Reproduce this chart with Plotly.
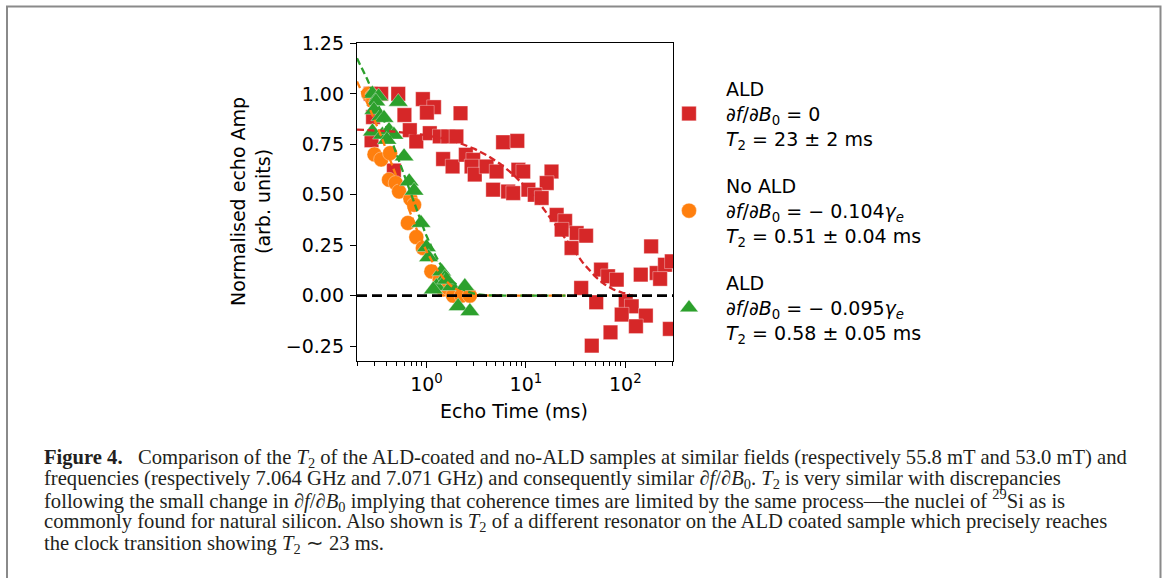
import numpy as np
import plotly.graph_objects as go

# ---------------- data ----------------
red_x = [0.275, 0.35, 0.52, 0.29, 0.92, 1.19, 1.01, 0.60, 2.20, 0.68, 0.79, 1.08, 1.36, 1.65, 2.0,
         0.28, 5.9, 8.2, 1.47, 1.83, 2.49, 2.95, 2.84, 3.06, 4.02, 5.07, 8.4, 9.4, 18.1, 16.2,
         4.68, 6.63, 7.45, 10.6, 12.3, 14.4, 0.47, 20.4, 24.8, 22.9, 32.4, 40.3, 28.8, 182,
         57, 67, 82, 143, 207, 251, 224, 294, 36, 51, 101, 116, 92, 161, 128, 71, 281, 46]
red_y = [1.00, 1.00, 1.00, 0.885, 0.974, 0.934, 0.907, 0.895, 0.904, 0.82, 0.764, 0.805, 0.789, 0.789, 0.789,
         0.77, 0.76, 0.767, 0.677, 0.64, 0.698, 0.673, 0.64, 0.60, 0.64, 0.615, 0.624, 0.615, 0.615, 0.558,
         0.525, 0.516, 0.508, 0.525, 0.50, 0.484, 0.62, 0.40, 0.37, 0.327, 0.31, 0.297, 0.236, 0.244,
         0.129, 0.096, 0.079, 0.104, 0.112, 0.153, 0.083, 0.17, 0.038, -0.033, -0.028, -0.053, -0.094,
         -0.099, -0.152, -0.182, -0.165, -0.248]

orange_x = [0.26, 0.285, 0.30, 0.35, 0.43, 0.42, 0.49, 0.53, 0.69, 0.75, 0.65, 0.79, 0.92,
            1.12, 1.36, 1.47, 1.65, 1.85, 2.25, 2.73]
orange_y = [1.0, 0.99, 0.70, 0.675, 0.706, 0.574, 0.558, 0.516, 0.48, 0.45, 0.36, 0.29, 0.236,
            0.12, 0.079, 0.03, 0.038, 0.0, 0.0, 0.0]

green_x = [0.286, 0.33, 0.31, 0.52, 0.296, 0.346, 0.374, 0.286, 0.36, 0.42, 0.47, 0.40, 0.595,
           0.67, 0.75, 0.88, 1.0, 1.05, 1.42, 1.53, 1.26, 1.78, 2.43, 2.08, 2.73, 1.17, 1.59]
green_y = [1.0, 0.987, 0.962, 0.96, 0.92, 0.888, 0.88, 0.813, 0.797, 0.82, 0.797, 0.772, 0.69,
           0.566, 0.52, 0.36, 0.24, 0.19, 0.12, 0.088, 0.046, 0.046, 0.046, -0.053, -0.078, 0.03, 0.079]

# exponential fits: amplitude, T2 (ms), end of fitted range (ms)
fit_red = dict(amp=0.83, t2=23.0, t_end=110.0)
fit_orange = dict(amp=1.57, t2=0.51, t_end=25.0)
fit_green = dict(amp=1.66, t2=0.58, t_end=25.0)
fit_t_start = 0.2

x_tickvals = [1, 10, 100]
x_ticktext = ["10<sup>0</sup>", "10<sup>1</sup>", "10<sup>2</sup>"]
x_minor = [0.2, 0.3, 0.4, 0.5, 0.6, 0.7, 0.8, 0.9, 2, 3, 4, 5, 6, 7, 8, 9,
           20, 30, 40, 50, 60, 70, 80, 90, 200, 300]
y_tickvals = [-0.25, 0.0, 0.25, 0.5, 0.75, 1.0, 1.25]

names = [
    "ALD<br><i>∂f</i>/<i>∂B</i><sub>0</sub> = 0<br><i>T</i><sub>2</sub> = 23 ± 2 ms",
    "No ALD<br><i>∂f</i>/<i>∂B</i><sub>0</sub> = − 0.104<i>γ</i><sub><i>e</i></sub><br><i>T</i><sub>2</sub> = 0.51 ± 0.04 ms",
    "ALD<br><i>∂f</i>/<i>∂B</i><sub>0</sub> = − 0.095<i>γ</i><sub><i>e</i></sub><br><i>T</i><sub>2</sub> = 0.58 ± 0.05 ms",
]

caption_lines = [
    "<b>Figure 4.</b>\u2002 Comparison of the <i>T</i><sub>2</sub> of the ALD-coated and no-ALD samples at similar fields (respectively 55.8 mT and 53.0 mT) and",
    "frequencies (respectively 7.064 GHz and 7.071 GHz) and consequently similar <i>∂f</i>/<i>∂B</i><sub>0</sub>. <i>T</i><sub>2</sub> is very similar with discrepancies",
    "following the small change in <i>∂f</i>/<i>∂B</i><sub>0</sub> implying that coherence times are limited by the same process—the nuclei of <sup>29</sup>Si as is",
    "commonly found for natural silicon. Also shown is <i>T</i><sub>2</sub> of a different resonator on the ALD coated sample which precisely reaches",
    "the clock transition showing <i>T</i><sub>2</sub> ∼ 23 ms.",
]

RED, ORANGE, GREEN = "#d62728", "#ff7f0e", "#2ca02c"

# ---------------- layout geometry (pixels) ----------------
W, H = 1165, 578
L, R, T, B = 357, 673, 43, 361
pw, ph = R - L, B - T


def px(x):
    return (x - L) / pw


def py(y):
    return (B - y) / ph


FONT = "DejaVu Sans"
FS = 19

fig = go.Figure()

for xs, ys, col, sym, size, name in [
    (red_x, red_y, RED, "square", 14.5, names[0]),
    (orange_x, orange_y, ORANGE, "circle", 15, names[1]),
    (green_x, green_y, GREEN, "triangle-up", 17, names[2]),
]:
    fig.add_trace(go.Scatter(
        x=xs, y=ys, mode="markers", name=name, legendgroup=name,
        marker=dict(symbol=sym, size=size, color=col,
                    line=dict(width=0.6, color="rgba(255,255,255,0.6)")),
    ))

for fit, col in [(fit_red, RED), (fit_orange, ORANGE), (fit_green, GREEN)]:
    t = np.logspace(np.log10(fit_t_start), np.log10(fit["t_end"]), 300)
    fig.add_trace(go.Scatter(
        x=t, y=fit["amp"] * np.exp(-t / fit["t2"]), mode="lines", showlegend=False,
        line=dict(color=col, width=2.3, dash="7px,3.5px"),
    ))

# zero line
fig.add_shape(type="line", xref="paper", yref="y", x0=0, x1=1, y0=0, y1=0,
              line=dict(color="black", width=2.6, dash="10px,5px"), layer="above")

# outer frame
fig.add_shape(type="path", xref="paper", yref="paper",
              path=f"M {px(7)} {py(620)} L {px(7)} {py(6.5)} L {px(1160.5)} {py(6.5)} L {px(1160.5)} {py(620)}",
              line=dict(color="#8a8a8a", width=2), layer="above")

axis_common = dict(showline=True, linecolor="black", linewidth=1.3, mirror=True,
                   ticks="outside", tickcolor="black", tickwidth=1.3, ticklen=6,
                   showgrid=False, zeroline=False, automargin=False,
                   tickfont=dict(family=FONT, size=FS, color="black"))

fig.update_xaxes(type="log", range=[np.log10(0.2), np.log10(302)],
                 tickvals=x_tickvals, ticktext=x_ticktext,
                 minor=dict(tickvals=x_minor, ticks="outside", ticklen=3.5, tickwidth=1,
                            tickcolor="black"),
                 **axis_common)
fig.update_yaxes(range=[-0.324, 1.252], tickvals=y_tickvals, tickformat=".2f",
                 ticklabelstandoff=2, **axis_common)

ann = []
# axis titles
ann.append(dict(x=px(514), y=py(411), xref="paper", yref="paper", text="Echo Time (ms)",
                showarrow=False, font=dict(family=FONT, size=FS, color="black"),
                xanchor="center", yanchor="middle"))
ann.append(dict(x=px(250), y=py(202), xref="paper", yref="paper",
                text="Normalised echo Amp<br>(arb. units)", textangle=-90,
                showarrow=False, font=dict(family=FONT, size=FS, color="black"),
                xanchor="center", yanchor="middle"))
# caption
cap_y = [458, 479.5, 501, 522.5, 544]
for line, yy in zip(caption_lines, cap_y):
    ann.append(dict(x=px(42), y=py(yy), xref="paper", yref="paper", text=line,
                    showarrow=False, font=dict(family="Liberation Serif", size=20.6, color="#231f20"),
                    xanchor="left", yanchor="middle", align="left"))

fig.update_layout(
    width=W, height=H,
    template="none",
    paper_bgcolor="white", plot_bgcolor="white",
    margin=dict(l=L, r=W - R, t=T, b=H - B, autoexpand=False),
    annotations=ann,
    showlegend=True,
    legend=dict(x=px(652), y=py(70), xanchor="left", yanchor="top",
                font=dict(family=FONT, size=FS, color="black"),
                bgcolor="rgba(0,0,0,0)", borderwidth=0,
                tracegroupgap=20, itemwidth=64, valign="middle"),
)

fig.write_html("out.html", config={"displayModeBar": False},
               post_script="document.body.style.margin='0';")
